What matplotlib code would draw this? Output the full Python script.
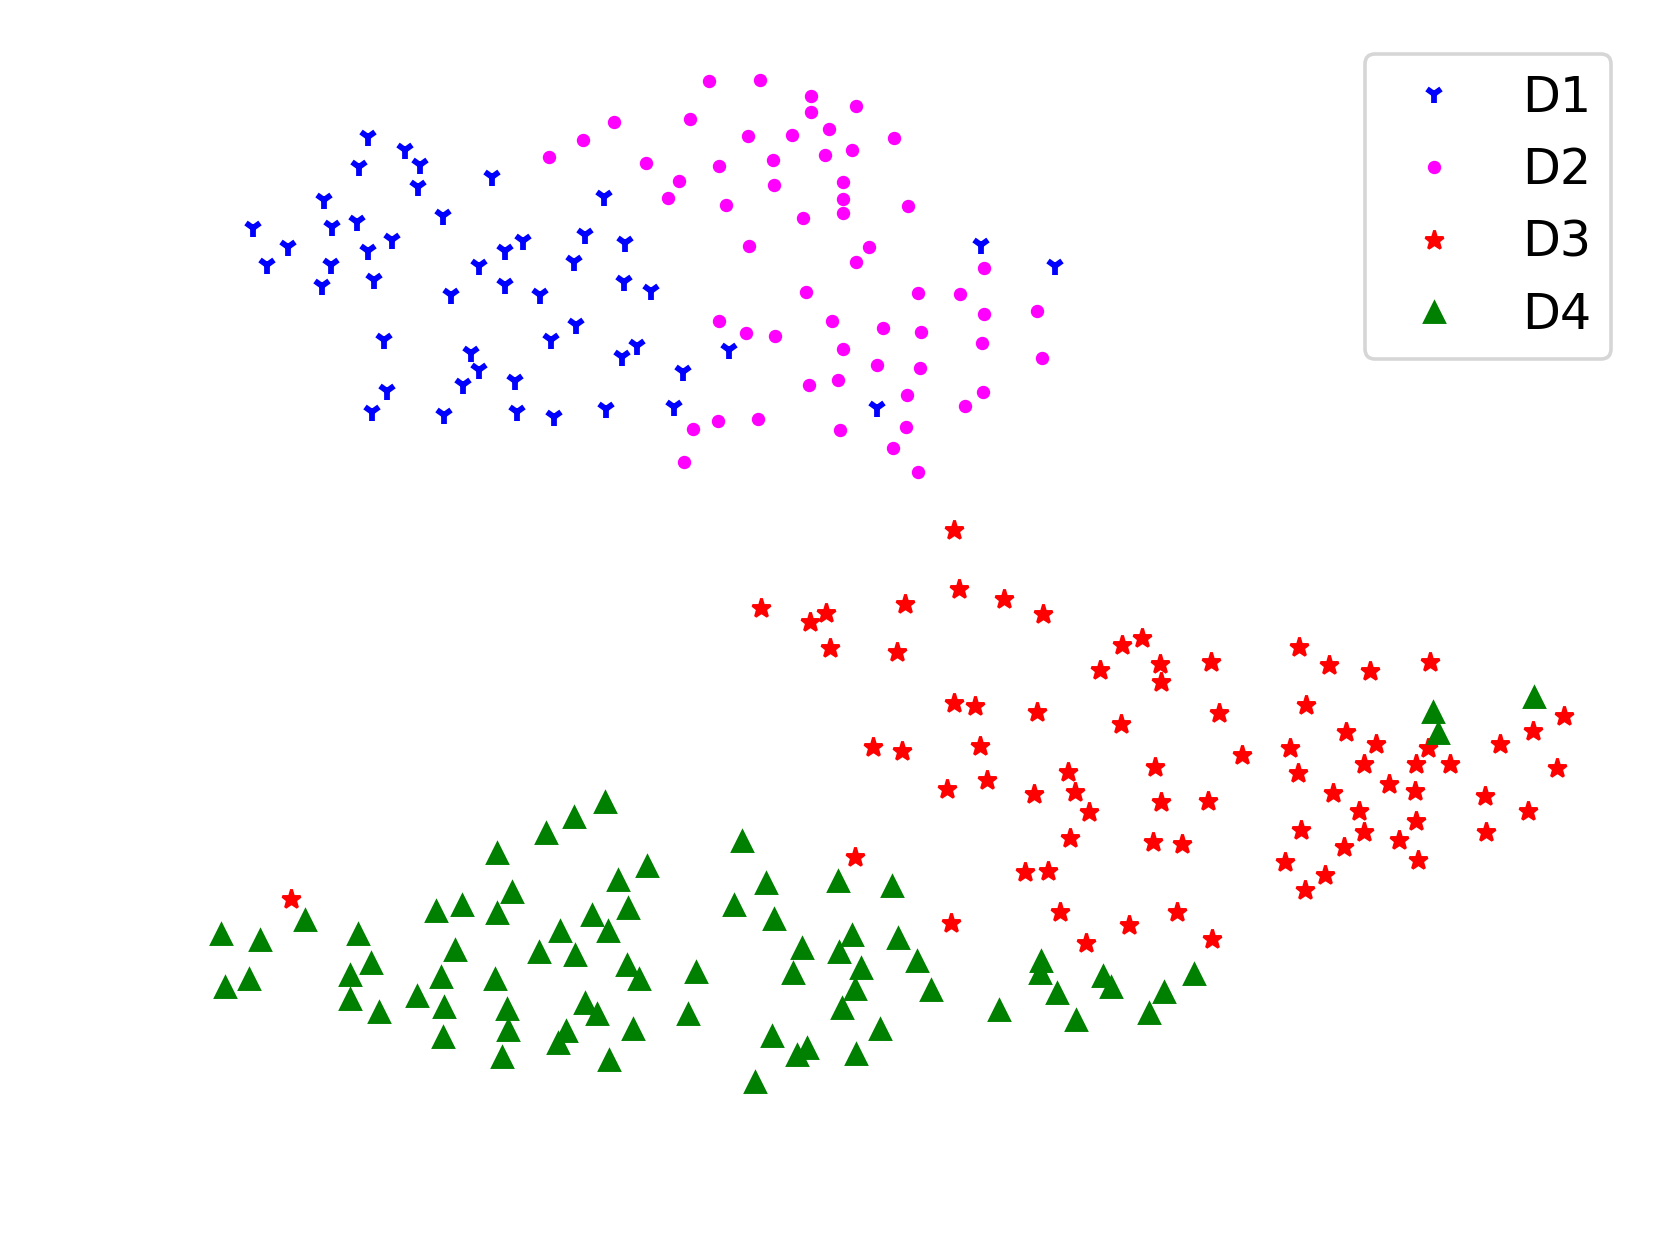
import numpy as np
import matplotlib
matplotlib.use("Agg")
import matplotlib.pyplot as plt

# point positions (x right, y down, image units)
d1_x = [368, 405, 420, 359, 418, 492, 324, 443, 253, 332, 357, 288, 368, 392, 267, 331, 322,
        374, 451, 479, 505, 523, 505, 540, 604, 585, 625, 574, 624, 651, 384, 576, 551, 637,
        622, 471, 479, 463, 515, 683, 387, 372, 444, 517, 554, 606, 674, 729, 981, 1055, 877]
d1_y = [137, 150, 165, 167, 187, 177, 200, 216, 228, 227, 222, 247, 251, 240, 265, 265, 286,
        280, 295, 266, 251, 241, 285, 295, 197, 235, 243, 262, 282, 291, 340, 325, 340, 346,
        357, 353, 370, 385, 381, 372, 391, 412, 415, 412, 417, 409, 407, 350, 245, 266, 408]

d2_x = [709, 760, 811, 811, 856, 614, 690, 583, 549, 748, 792, 829, 894, 825, 852, 646, 719,
        773, 679, 774, 843, 668, 726, 843, 843, 908, 803, 749, 869, 856, 984, 806, 918, 960,
        1037, 984, 719, 746, 775, 832, 883, 921, 982, 843, 877, 920, 1042, 809, 838, 907, 983,
        965, 718, 758, 693, 840, 906, 893, 684, 918]
d2_y = [81, 80, 96, 112, 106, 122, 119, 140, 157, 136, 135, 129, 138, 155, 150, 163, 166,
        160, 181, 185, 182, 198, 205, 199, 213, 206, 218, 246, 247, 262, 268, 292, 293, 294,
        311, 314, 321, 333, 336, 321, 328, 332, 343, 349, 365, 368, 358, 385, 380, 395, 392,
        406, 421, 419, 429, 430, 427, 448, 462, 472]

d3_x = [954, 959, 761, 810, 826, 905, 1004, 1043, 830, 897, 1122, 1100, 954, 975, 1037, 1121,
        873, 902, 980, 947, 987, 1034, 1068, 1075, 1089, 1070, 855, 1025, 1048,
        1142, 1160, 1161, 1211, 1299, 1329, 1370, 1430, 1306, 1219, 1346, 1376, 1428, 1500,
        1533, 1564, 1242, 1290, 1298, 1364, 1416, 1450, 1557, 1155, 1389, 1415, 1333, 1161,
        1208, 1359, 1416, 1485, 1528, 1301, 1364, 1344, 1399, 1486, 1153, 1182, 1418, 1285,
        1325, 1305, 1177, 1129, 951, 1060, 1086, 1212, 291]
d3_y = [530, 589, 608, 622, 613, 604, 599, 614, 648, 652, 645, 670, 703, 706, 712, 724,
        747, 751, 746, 789, 780, 794, 772, 792, 812, 838, 857, 872, 871,
        638, 664, 682, 662, 647, 665, 671, 662, 705, 713, 732, 744, 748, 744,
        731, 716, 755, 748, 773, 764, 764, 764, 768, 767, 784, 791, 793, 802,
        801, 811, 821, 796, 811, 830, 832, 847, 840, 832, 842, 844, 860, 862,
        875, 890, 912, 925, 923, 912, 943, 939, 899]

d4_x = [221, 260, 305, 225, 249, 358, 371, 350, 350, 379, 497, 546, 574, 605, 512, 497, 436,
        462, 455, 441, 417, 444, 443, 495, 507, 508, 502, 618, 647, 628, 592, 608, 560, 539,
        575, 627, 639, 585, 597, 566, 558, 633, 609, 696, 688,
        742, 766, 734, 774, 838, 892, 852, 802, 839, 793, 861, 898, 917, 931, 855, 842, 880,
        772, 807, 797, 856, 755, 1041, 1040, 1057, 1076, 999, 1103, 1111, 1164, 1149, 1194,
        1433, 1438, 1534]
d4_y = [934, 940, 920, 987, 979, 934, 963, 975, 999, 1012, 853, 833, 817, 802, 892, 913, 911,
        905, 950, 977, 996, 1007, 1037, 979, 1009, 1030, 1057, 880, 866, 908, 915, 931, 931, 952,
        955, 965, 979, 1003, 1014, 1031, 1043, 1029, 1060, 972, 1014,
        841, 883, 905, 919, 881, 886, 935, 948, 952, 973, 968, 938, 961, 990, 989, 1008, 1029,
        1036, 1048, 1055, 1054, 1082, 961, 973, 993, 1020, 1010, 976, 987, 992, 1013, 974,
        712, 733, 697]

W, H = 1665, 1239
DPI = 260
fig = plt.figure(figsize=(W / DPI, H / DPI), dpi=DPI)
ax = fig.add_axes([0, 0, 1, 1])

ax.plot(d1_x, d1_y, linestyle="none", marker="1", color="blue", ms=5.0, mew=1.6, label="D1")
ax.plot(d2_x, d2_y, linestyle="none", marker="o", color="magenta", ms=3.2, mew=0.5, label="D2")
ax.plot(d3_x, d3_y, linestyle="none", marker="*", color="red", ms=5.5, mew=0.8, label="D3")
ax.plot(d4_x, d4_y, linestyle="none", marker="^", color="green", ms=5.5, mew=0.8, label="D4")

ax.set_xlim(0, W)
ax.set_ylim(H, 0)
ax.axis("off")

ax.legend(loc="upper right", bbox_to_anchor=(1611 / W, 1 - 54 / H),
          bbox_transform=fig.transFigure, borderaxespad=0, fontsize=13.6)

fig.savefig("out.png", dpi=DPI)
